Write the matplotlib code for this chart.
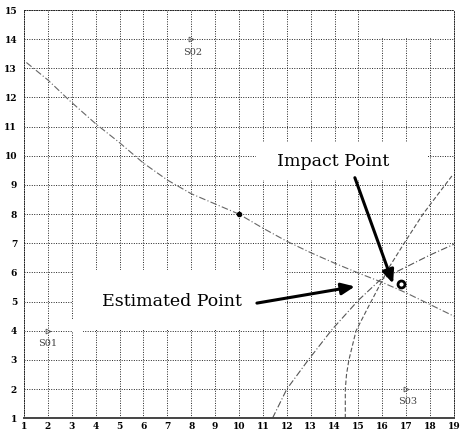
import matplotlib
matplotlib.use("Agg")
import matplotlib.pyplot as plt
from matplotlib.patches import Rectangle


# ── Data ─────────────────────────────────────────────────────────────────────

X_TICKS = list(range(1, 20))
Y_TICKS = list(range(1, 16))

# hyperbola coming down from the upper left
CURVE_A_X = [1.1, 2.0, 2.9, 4.0, 5.0, 6.0, 7.0, 8.0, 9.0, 10.0, 11.0, 12.0,
             13.0, 14.0, 15.0, 16.0, 17.0, 18.0, 19.0]
CURVE_A_Y = [13.2, 12.6, 11.9, 11.1, 10.45, 9.75, 9.17, 8.7, 8.35, 8.0, 7.52,
             7.07, 6.68, 6.32, 5.98, 5.66, 5.3, 4.9, 4.5]

# branch rising from the bottom near x = 11.4
CURVE_B_X = [11.4, 12.0, 12.9, 13.9, 15.0, 15.9, 16.9, 18.0, 19.0]
CURVE_B_Y = [1.0, 2.0, 3.0, 4.05, 5.05, 5.74, 6.15, 6.6, 6.97]

# branch rising from the bottom near x = 14.45
CURVE_C_X = [14.45, 14.45, 14.5, 14.6, 14.9, 15.4, 15.85, 16.3, 16.95, 17.7,
             18.3, 18.95]
CURVE_C_Y = [1.0, 2.0, 2.5, 3.0, 4.0, 4.8, 5.5, 6.2, 7.05, 8.0, 8.65, 9.35]

CURVE_A_DOT = (10.0, 8.0)
IMPACT_POINT = (16.77, 5.62)

SENSOR_NAMES = ["S01", "S02", "S03"]
SENSOR_X = [2.0, 8.0, 17.0]
SENSOR_Y = [4.0, 14.0, 2.0]
SENSOR_LABEL_X = [2.0, 8.05, 17.07]
SENSOR_LABEL_Y = [3.58, 13.55, 1.56]

IMPACT_LABEL = "Impact Point"
IMPACT_LABEL_XY = (13.93, 9.8)
IMPACT_ARROW_FROM = (14.85, 9.25)
IMPACT_ARROW_TO = (16.45, 5.62)

ESTIMATE_LABEL = "Estimated Point"
ESTIMATE_LABEL_XY = (7.2, 5.0)
ESTIMATE_ARROW_FROM = (10.75, 4.95)
ESTIMATE_ARROW_TO = (14.85, 5.52)

# blank patches in the original grid (x0, y0, x1, y1)
BLANKS = [
    (15.08, 14.04, 18.93, 14.96),
    (10.7, 9.17, 17.93, 10.49),
    (3.05, 4.05, 11.94, 6.08),
    (3.03, 3.96, 3.45, 4.37),
]


# ── Figure ───────────────────────────────────────────────────────────────────

fig = plt.figure(figsize=(4.64, 4.32), dpi=100)
ax = fig.add_axes([24 / 464, 1 - 418.3 / 432, 430 / 464, 408.3 / 432])
ax.set_xlim(1, 19)
ax.set_ylim(1, 15)

ax.set_xticks(X_TICKS)
ax.set_yticks(Y_TICKS)
ax.tick_params(length=0, labelsize=6.5, pad=5)
ax.tick_params(axis="x", pad=3)
for lab in ax.get_xticklabels() + ax.get_yticklabels():
    lab.set_fontfamily("DejaVu Serif")
    lab.set_fontweight("bold")

dots = (0, (1, 1.5))
ax.set_axisbelow(True)
ax.grid(True, color="#222222", linestyle=dots, linewidth=0.7)
for side in ["top", "left", "right"]:
    ax.spines[side].set_linestyle(dots)
    ax.spines[side].set_linewidth(0.7)
    ax.spines[side].set_color("#222222")
ax.spines["bottom"].set_linewidth(1.4)
ax.spines["bottom"].set_color("#444444")

for x0, y0, x1, y1 in BLANKS:
    ax.add_patch(Rectangle((x0, y0), x1 - x0, y1 - y0, facecolor="white",
                           edgecolor="none", zorder=1))

# hyperbola branches
ax.plot(CURVE_A_X, CURVE_A_Y, color="#666666", linewidth=0.8,
        linestyle=(0, (6, 2, 1, 2)), zorder=2)
ax.plot(CURVE_B_X, CURVE_B_Y, color="#555555", linewidth=0.8,
        linestyle=(0, (6, 2, 1, 2)), zorder=2)
ax.plot(CURVE_C_X, CURVE_C_Y, color="#555555", linewidth=0.8,
        linestyle=(0, (4, 2)), zorder=2)
ax.plot(*CURVE_A_DOT, marker="o", markersize=3, color="black", zorder=3)

# sensors
ax.plot(SENSOR_X, SENSOR_Y, linestyle="none", marker=">", markersize=3.5,
        fillstyle="none", markeredgewidth=0.6, color="#555555", zorder=3)
for name, lx, ly in zip(SENSOR_NAMES, SENSOR_LABEL_X, SENSOR_LABEL_Y):
    ax.text(lx, ly, name, fontsize=7, family="DejaVu Serif", color="#444444",
            ha="center", va="center", zorder=3)

# impact point
ax.plot(*IMPACT_POINT, marker="o", markersize=5, markerfacecolor="white",
        markeredgecolor="black", markeredgewidth=2, zorder=4)

# annotations
ax.text(*IMPACT_LABEL_XY, IMPACT_LABEL, fontsize=12.5, family="DejaVu Serif",
        ha="center", va="center", zorder=4)
ax.annotate("", xy=IMPACT_ARROW_TO, xytext=IMPACT_ARROW_FROM,
            arrowprops=dict(arrowstyle="-|>,head_length=0.8,head_width=0.35",
                            color="black", linewidth=2.2, shrinkA=0, shrinkB=0),
            zorder=4)

ax.text(*ESTIMATE_LABEL_XY, ESTIMATE_LABEL, fontsize=12.5, family="DejaVu Serif",
        ha="center", va="center", zorder=4)
ax.annotate("", xy=ESTIMATE_ARROW_TO, xytext=ESTIMATE_ARROW_FROM,
            arrowprops=dict(arrowstyle="-|>,head_length=0.8,head_width=0.35",
                            color="black", linewidth=2.2, shrinkA=0, shrinkB=0),
            zorder=4)

fig.savefig("out.png", dpi=100)
plt.close(fig)
